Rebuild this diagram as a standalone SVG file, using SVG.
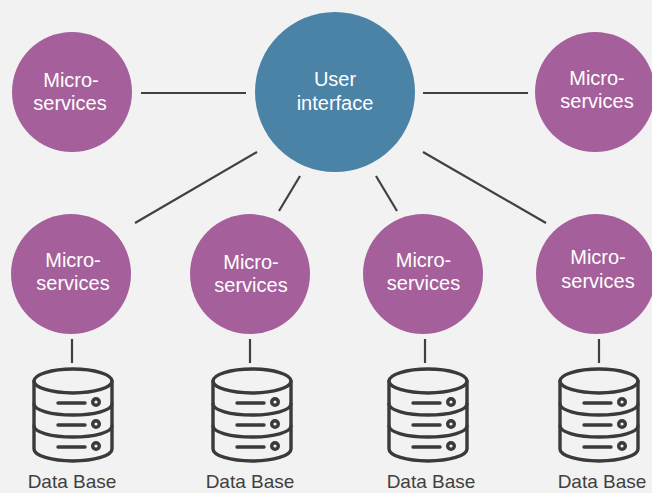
<svg xmlns="http://www.w3.org/2000/svg" xmlns:xlink="http://www.w3.org/1999/xlink" width="652" height="493" viewBox="0 0 652 493">
  <style>
    .ms { fill: #A5609B; }
    .ui { fill: #4A83A6; }
    .lbl { font-family: "Liberation Sans", Arial, sans-serif; font-size: 20px; fill: #FFFFFF; text-anchor: middle; }
    .db { font-family: "Liberation Sans", Arial, sans-serif; font-size: 19px; fill: #404040; text-anchor: middle; }
    .conn line { stroke: #404040; stroke-width: 2.2; }
    .ico { fill: none; stroke: #3A3A3A; stroke-width: 3.4; stroke-linecap: round; stroke-linejoin: round; }
  </style>
  <defs>
    <g id="dbicon" class="ico">
      <ellipse cx="0" cy="12" rx="39" ry="12"/>
      <path d="M -39 12 L -39 80 A 39 12 0 0 0 39 80 L 39 12"/>
      <path d="M -39 35 A 39 11 0 0 0 39 35"/>
      <path d="M -39 57 A 39 11 0 0 0 39 57"/>
      <line x1="-15" y1="34" x2="12" y2="34"/>
      <line x1="-15" y1="56" x2="12" y2="56"/>
      <line x1="-15" y1="78" x2="12" y2="78"/>
      <circle cx="23" cy="33" r="3.3"/>
      <circle cx="23" cy="55" r="3.3"/>
      <circle cx="23" cy="77" r="3.3"/>
    </g>
  </defs>
  <rect x="0" y="0" width="652" height="493" fill="#F2F2F2"/>

  <g id="connectors" class="conn">
    <line x1="141" y1="93" x2="246" y2="93"/>
    <line x1="423" y1="93" x2="528" y2="93"/>
    <line x1="257" y1="152" x2="135" y2="223"/>
    <line x1="300" y1="176" x2="279" y2="211"/>
    <line x1="376" y1="176" x2="397" y2="211"/>
    <line x1="423" y1="152" x2="546" y2="223"/>
    <line x1="72" y1="339" x2="72" y2="363"/>
    <line x1="250" y1="339" x2="250" y2="363"/>
    <line x1="425" y1="339" x2="425" y2="363"/>
    <line x1="599" y1="339" x2="599" y2="363"/>
  </g>

  <g id="ui">
    <circle class="ui" cx="335" cy="92" r="80"/>
    <text class="lbl" x="335" y="86">User</text>
    <text class="lbl" x="335" y="110">interface</text>
  </g>

  <g id="ms-top-left">
    <circle class="ms" cx="72" cy="92" r="60"/>
    <text class="lbl" x="71" y="87">Micro-</text>
    <text class="lbl" x="70" y="110">services</text>
  </g>
  <g id="ms-top-right">
    <circle class="ms" cx="595" cy="92" r="60"/>
    <text class="lbl" x="597" y="85">Micro-</text>
    <text class="lbl" x="597" y="108">services</text>
  </g>

  <g id="ms-1">
    <circle class="ms" cx="71" cy="274" r="60"/>
    <text class="lbl" x="73" y="267">Micro-</text>
    <text class="lbl" x="73" y="290">services</text>
  </g>
  <g id="ms-2">
    <circle class="ms" cx="250" cy="274" r="60"/>
    <text class="lbl" x="251" y="269">Micro-</text>
    <text class="lbl" x="251" y="292">services</text>
  </g>
  <g id="ms-3">
    <circle class="ms" cx="423" cy="274" r="60"/>
    <text class="lbl" x="423.5" y="267">Micro-</text>
    <text class="lbl" x="423.5" y="290">services</text>
  </g>
  <g id="ms-4">
    <circle class="ms" cx="596" cy="274" r="60"/>
    <text class="lbl" x="598" y="264">Micro-</text>
    <text class="lbl" x="598" y="288">services</text>
  </g>

  <g id="db-1">
    <use xlink:href="#dbicon" href="#dbicon" transform="translate(73,369)"/>
    <text class="db" x="72" y="488">Data Base</text>
  </g>
  <g id="db-2">
    <use xlink:href="#dbicon" href="#dbicon" transform="translate(252,369)"/>
    <text class="db" x="250" y="488">Data Base</text>
  </g>
  <g id="db-3">
    <use xlink:href="#dbicon" href="#dbicon" transform="translate(428,369)"/>
    <text class="db" x="431" y="488">Data Base</text>
  </g>
  <g id="db-4">
    <use xlink:href="#dbicon" href="#dbicon" transform="translate(599,369)"/>
    <text class="db" x="602" y="488">Data Base</text>
  </g>
</svg>
